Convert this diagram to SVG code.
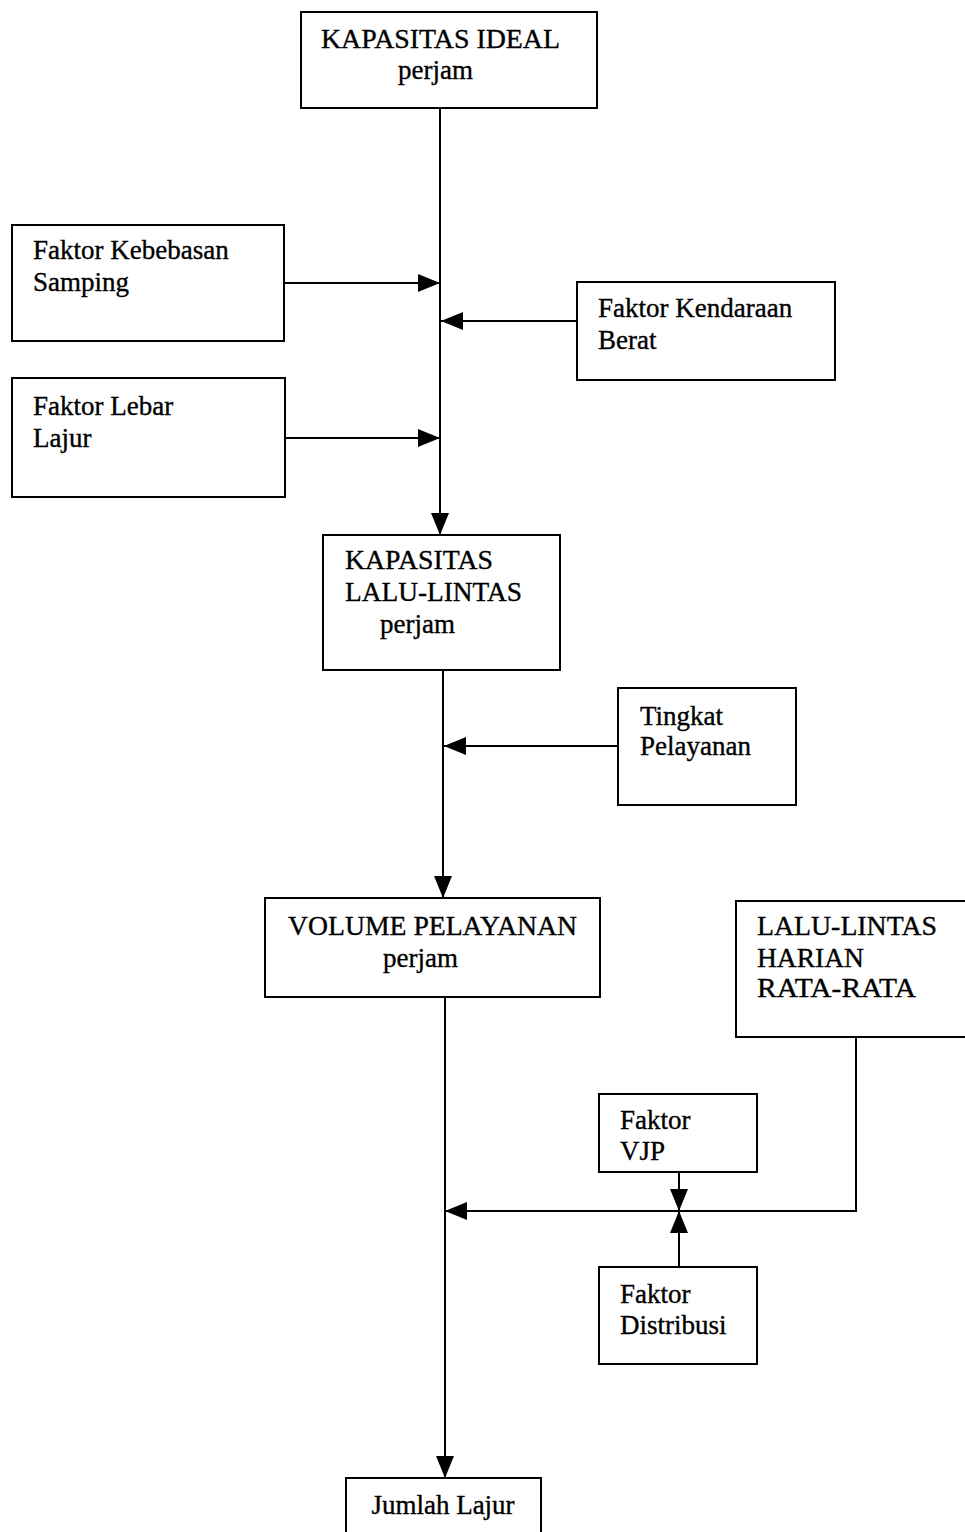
<svg xmlns="http://www.w3.org/2000/svg" width="965" height="1532" viewBox="0 0 965 1532">
  <style>
    .box { fill: #ffffff; stroke: #000000; stroke-width: 2; }
    .lbl { font-family: "Liberation Serif", "Times New Roman", serif; font-size: 27px; fill: #000000; stroke: #000000; stroke-width: 0.35; }
    .wire { fill: none; stroke: #000000; stroke-width: 2; }
  </style>
  <defs>
    <marker id="arrow" viewBox="0 0 22 18" refX="22" refY="9" markerWidth="22" markerHeight="18" markerUnits="userSpaceOnUse" orient="auto">
      <path d="M0,0 L22,9 L0,18 Z" fill="#000000"/>
    </marker>
  </defs>
  <rect width="965" height="1532" fill="#ffffff"/>

  <g id="connectors">
    <!-- main trunk: ideal capacity down to traffic capacity -->
    <path class="wire" d="M440,108 L440,535" marker-end="url(#arrow)"/>
    <path class="wire" d="M284,283 L440,283" marker-end="url(#arrow)"/>
    <path class="wire" d="M577,321 L441,321" marker-end="url(#arrow)"/>
    <path class="wire" d="M285,438 L440,438" marker-end="url(#arrow)"/>
    <!-- traffic capacity down to service volume -->
    <path class="wire" d="M443,670 L443,898" marker-end="url(#arrow)"/>
    <path class="wire" d="M618,746 L444,746" marker-end="url(#arrow)"/>
    <!-- service volume down to lane count -->
    <path class="wire" d="M445,997 L445,1478" marker-end="url(#arrow)"/>
    <path class="wire" d="M856,1037 L856,1211 L445,1211" marker-end="url(#arrow)"/>
    <path class="wire" d="M679,1172 L679,1211" marker-end="url(#arrow)"/>
    <path class="wire" d="M679,1267 L679,1211" marker-end="url(#arrow)"/>
  </g>

  <g id="kapasitas-ideal">
    <rect class="box" x="301" y="12" width="296" height="96"/>
    <text class="lbl" x="321" y="48" textLength="239" lengthAdjust="spacingAndGlyphs">KAPASITAS IDEAL</text>
    <text class="lbl" x="398" y="79">perjam</text>
  </g>

  <g id="faktor-kebebasan-samping">
    <rect class="box" x="12" y="225" width="272" height="116"/>
    <text class="lbl" x="33" y="259">Faktor Kebebasan</text>
    <text class="lbl" x="33" y="291">Samping</text>
  </g>

  <g id="faktor-kendaraan-berat">
    <rect class="box" x="577" y="282" width="258" height="98"/>
    <text class="lbl" x="598" y="317">Faktor Kendaraan</text>
    <text class="lbl" x="598" y="349">Berat</text>
  </g>

  <g id="faktor-lebar-lajur">
    <rect class="box" x="12" y="378" width="273" height="119"/>
    <text class="lbl" x="33" y="415">Faktor Lebar</text>
    <text class="lbl" x="33" y="447">Lajur</text>
  </g>

  <g id="kapasitas-lalu-lintas">
    <rect class="box" x="323" y="535" width="237" height="135"/>
    <text class="lbl" x="345" y="569" textLength="148" lengthAdjust="spacingAndGlyphs">KAPASITAS</text>
    <text class="lbl" x="345" y="601" textLength="177" lengthAdjust="spacingAndGlyphs">LALU-LINTAS</text>
    <text class="lbl" x="380" y="633">perjam</text>
  </g>

  <g id="tingkat-pelayanan">
    <rect class="box" x="618" y="688" width="178" height="117"/>
    <text class="lbl" x="640" y="725">Tingkat</text>
    <text class="lbl" x="640" y="755">Pelayanan</text>
  </g>

  <g id="volume-pelayanan">
    <rect class="box" x="265" y="898" width="335" height="99"/>
    <text class="lbl" x="288" y="935" textLength="289" lengthAdjust="spacingAndGlyphs">VOLUME PELAYANAN</text>
    <text class="lbl" x="383" y="967">perjam</text>
  </g>

  <g id="lalu-lintas-harian">
    <rect class="box" x="736" y="901" width="240" height="136"/>
    <text class="lbl" x="757" y="935" textLength="180" lengthAdjust="spacingAndGlyphs">LALU-LINTAS</text>
    <text class="lbl" x="757" y="967" textLength="107" lengthAdjust="spacingAndGlyphs">HARIAN</text>
    <text class="lbl" x="757" y="997" textLength="159" lengthAdjust="spacingAndGlyphs">RATA-RATA</text>
  </g>

  <g id="faktor-vjp">
    <rect class="box" x="599" y="1094" width="158" height="78"/>
    <text class="lbl" x="620" y="1129">Faktor</text>
    <text class="lbl" x="620" y="1160">VJP</text>
  </g>

  <g id="faktor-distribusi">
    <rect class="box" x="599" y="1267" width="158" height="97"/>
    <text class="lbl" x="620" y="1303">Faktor</text>
    <text class="lbl" x="620" y="1334">Distribusi</text>
  </g>

  <g id="jumlah-lajur">
    <rect class="box" x="346" y="1478" width="195" height="70"/>
    <text class="lbl" x="443" y="1514" text-anchor="middle">Jumlah Lajur</text>
  </g>
</svg>
